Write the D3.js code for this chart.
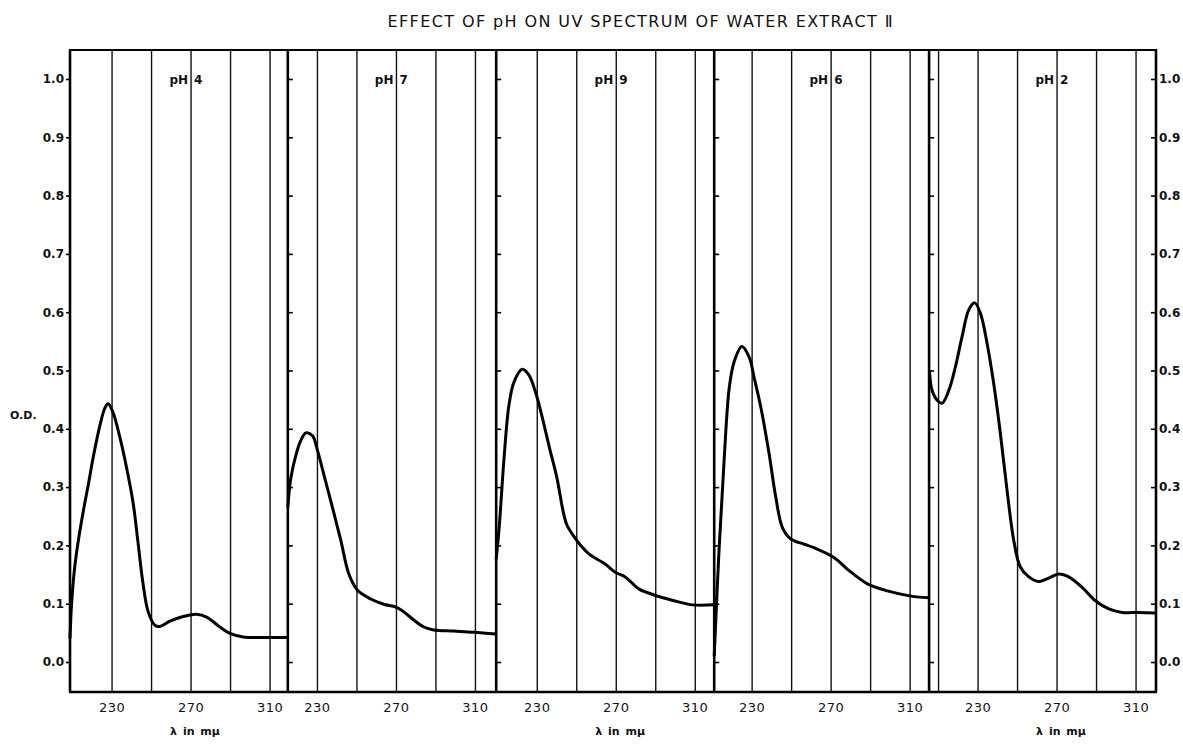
<!DOCTYPE html>
<meta charset="utf-8">
<style>
body { margin: 0; background: #fff; }
text { font-family: "DejaVu Sans", sans-serif; fill: #111; }
.grid line { stroke: #111; stroke-width: 1.4px; }
.curve { fill: none; stroke: #000; stroke-width: 3px; stroke-linejoin: round; }
</style>
<svg width="1183" height="746"></svg>
<script src="https://d3js.org/d3.v7.min.js"></script>
<script>

// pH of each strip, left to right
var phValues = ["4", "7", "9", "6", "2"];

// wavelength span (m\u03bc) covered by each strip of chart paper
var panelStart = [208.7, 215.0, 209.2, 210.8, 205.2];
var panelEnd   = [319.0, 320.5, 319.6, 319.6, 320.1];

var gridNm = [210, 230, 250, 270, 290, 310];
var xTickLabels = [230, 270, 310];
var yTicks = [0, 0.1, 0.2, 0.3, 0.4, 0.5, 0.6, 0.7, 0.8, 0.9, 1.0];

// spectra: wavelength (m\u03bc) and O.D.
var ph4Nm = [208.7, 209.5, 211.0, 213.0, 215.5, 218.0, 220.5, 223.8, 226.3, 228.0, 230.5, 233.9, 237.3, 240.7, 243.2, 245.7, 248.3, 251.7, 254.2, 259.3, 266.0, 272.8, 277.9, 284.6, 289.7, 296.4, 304.9, 319.0];
var ph4OD = [0.04, 0.10, 0.16, 0.21, 0.26, 0.305, 0.352, 0.405, 0.435, 0.443, 0.428, 0.386, 0.334, 0.272, 0.203, 0.134, 0.086, 0.063, 0.061, 0.070, 0.078, 0.082, 0.077, 0.060, 0.049, 0.043, 0.042, 0.042];

var ph7Nm = [215.0, 216.5, 219.1, 221.6, 224.1, 227.5, 230.0, 233.2, 237.6, 241.8, 245.9, 250.3, 257.0, 263.6, 269.7, 273.7, 278.8, 283.9, 288.9, 299.1, 309.2, 320.3];
var ph7OD = [0.265, 0.315, 0.355, 0.38, 0.393, 0.388, 0.363, 0.322, 0.265, 0.209, 0.151, 0.123, 0.108, 0.099, 0.094, 0.086, 0.072, 0.060, 0.055, 0.053, 0.051, 0.048];

var ph9Nm = [209.2, 210.7, 213.1, 215.6, 218.2, 222.4, 225.8, 229.1, 232.5, 236.0, 240.0, 243.0, 245.0, 248.0, 252.0, 256.3, 264.4, 269.5, 274.5, 281.6, 289.2, 298.3, 308.4, 319.5];
var ph9OD = [0.176, 0.23, 0.346, 0.439, 0.48, 0.502, 0.492, 0.463, 0.42, 0.37, 0.315, 0.26, 0.235, 0.218, 0.2, 0.185, 0.168, 0.154, 0.146, 0.125, 0.115, 0.106, 0.098, 0.098];

var ph6Nm = [210.8, 213.3, 215.9, 218.4, 220.9, 224.8, 228.5, 231.0, 234.4, 238.6, 242.0, 245.4, 249.6, 256.4, 261.4, 271.6, 278.3, 288.4, 298.5, 310.4, 319.5];
var ph6OD = [0.01, 0.196, 0.351, 0.47, 0.515, 0.541, 0.523, 0.488, 0.437, 0.357, 0.282, 0.23, 0.211, 0.202, 0.196, 0.179, 0.159, 0.134, 0.122, 0.113, 0.110];

var ph2Nm = [205.4, 206.7, 209.3, 211.8, 215.2, 218.5, 221.9, 225.3, 228.3, 231.2, 234.6, 237.9, 241.3, 244.7, 248.1, 251.4, 255.7, 260.7, 265.8, 270.9, 275.9, 282.7, 289.4, 296.2, 303.0, 311.4, 320.0];
var ph2OD = [0.50, 0.466, 0.449, 0.444, 0.466, 0.506, 0.558, 0.604, 0.616, 0.598, 0.546, 0.478, 0.392, 0.294, 0.208, 0.163, 0.146, 0.138, 0.144, 0.151, 0.146, 0.128, 0.105, 0.091, 0.085, 0.085, 0.084];

var spectraNm = [ph4Nm, ph7Nm, ph9Nm, ph6Nm, ph2Nm];
var spectraOD = [ph4OD, ph7OD, ph9OD, ph6OD, ph2OD];

var svg = d3.select("svg");

var plotLeft = 70, plotRight = 1156, plotTop = 50, plotBottom = 692;

var y = d3.scaleLinear().domain([0, 1]).range([662, 79]);

// strips sit side by side, every strip has the same m\u03bc per pixel
var totalNm = d3.sum(panelStart, function(d, i) { return panelEnd[i] - d; });
var pxPerNm = (plotRight - plotLeft) / totalNm;

var panels = [];
var x0 = plotLeft;
phValues.forEach(function(ph, i) {
  var w = (panelEnd[i] - panelStart[i]) * pxPerNm;
  panels.push({
    ph: ph,
    x: d3.scaleLinear().domain([panelStart[i], panelEnd[i]]).range([x0, x0 + w]),
    pts: spectraNm[i].map(function(nm, j) { return [nm, spectraOD[i][j]]; })
  });
  x0 += w;
});

// title
svg.append("text")
   .attr("x", 640)
   .attr("y", 27)
   .attr("text-anchor", "middle")
   .attr("font-size", "16px")
   .attr("textLength", 505)
   .attr("lengthAdjust", "spacing")
   .text("EFFECT OF pH ON UV SPECTRUM OF WATER EXTRACT \u2161");

// vertical grid of the chart paper
var grid = svg.append("g").attr("class", "grid");
panels.forEach(function(p) {
  var dom = p.x.domain();
  gridNm.filter(function(g) { return g > dom[0] + 2 && g < dom[1] - 2; })
        .forEach(function(g) {
          grid.append("line")
              .attr("x1", p.x(g)).attr("x2", p.x(g))
              .attr("y1", plotTop).attr("y2", plotBottom);
        });
});

// strip boundaries with their small O.D. ticks
panels.forEach(function(p, i) {
  var bx = p.x.range()[0];
  if (i > 0) {
    svg.append("line")
       .attr("x1", bx).attr("x2", bx)
       .attr("y1", plotTop).attr("y2", plotBottom)
       .attr("stroke", "#000")
       .attr("stroke-width", 2.6);
    var t = svg.append("g")
       .attr("transform", "translate(" + bx + ",0)")
       .call(d3.axisRight(y).tickValues(yTicks).tickSize(5).tickFormat(""));
    t.select(".domain").remove();
    t.selectAll("line").attr("stroke", "#000").attr("stroke-width", 1.6);
  }
});

// frame
svg.append("line").attr("x1", plotLeft - 1).attr("x2", plotRight + 1).attr("y1", plotTop).attr("y2", plotTop)
   .attr("stroke", "#000").attr("stroke-width", 2);
svg.append("line").attr("x1", plotLeft - 1).attr("x2", plotRight + 1).attr("y1", plotBottom).attr("y2", plotBottom)
   .attr("stroke", "#000").attr("stroke-width", 2.4);
svg.append("line").attr("x1", plotLeft).attr("x2", plotLeft).attr("y1", plotTop).attr("y2", plotBottom)
   .attr("stroke", "#000").attr("stroke-width", 2.6);
svg.append("line").attr("x1", plotRight).attr("x2", plotRight).attr("y1", plotTop).attr("y2", plotBottom)
   .attr("stroke", "#000").attr("stroke-width", 2.6);

// left O.D. axis
var yLeft = svg.append("g")
   .attr("transform", "translate(" + plotLeft + ",0)")
   .call(d3.axisLeft(y).tickValues(yTicks).tickSize(4).tickPadding(2).tickFormat(d3.format(".1f")));
yLeft.select(".domain").remove();
yLeft.selectAll("line").attr("stroke", "#000").attr("stroke-width", 1.6);
yLeft.selectAll("text")
     .attr("font-family", "'DejaVu Sans', sans-serif")
     .attr("font-size", "12px")
     .attr("font-weight", "bold")
     .attr("fill", "#111");

// right O.D. axis
var yRight = svg.append("g")
   .attr("transform", "translate(" + plotRight + ",0)")
   .call(d3.axisRight(y).tickValues(yTicks).tickSize(-5).tickPadding(3).tickFormat(d3.format(".1f")));
yRight.select(".domain").remove();
yRight.selectAll("line").attr("stroke", "#000").attr("stroke-width", 1.6);
yRight.selectAll("text")
      .attr("font-family", "'DejaVu Sans', sans-serif")
      .attr("font-size", "12px")
      .attr("font-weight", "bold")
      .attr("fill", "#111");

svg.append("text")
   .attr("x", 10)
   .attr("y", 419)
   .attr("font-size", "11px")
   .attr("font-weight", "bold")
   .text("O.D.");

// spectra
var line = d3.line()
  .curve(d3.curveCatmullRom.alpha(0.5));

panels.forEach(function(p) {
  line.x(function(d) { return p.x(d[0]); })
      .y(function(d) { return y(d[1]); });
  svg.append("path")
     .attr("class", "curve")
     .attr("d", line(p.pts));

  // pH label straddles the 270 line
  var lx = p.x(270);
  svg.append("text")
     .attr("x", lx - 3).attr("y", 84)
     .attr("text-anchor", "end")
     .attr("font-size", "12px")
     .attr("font-weight", "bold")
     .text("pH");
  svg.append("text")
     .attr("x", lx + 3).attr("y", 84)
     .attr("font-size", "12px")
     .attr("font-weight", "bold")
     .text(p.ph);

  xTickLabels.forEach(function(t) {
    svg.append("text")
       .attr("x", p.x(t)).attr("y", 712)
       .attr("text-anchor", "middle")
       .attr("font-size", "13px")
       .attr("letter-spacing", "0.5px")
       .text(t);
  });
});

// wavelength caption under the 1st, 3rd and 5th strips
[0, 2, 4].forEach(function(i) {
  var p = panels[i];
  svg.append("text")
     .attr("x", p.x(272)).attr("y", 735)
     .attr("text-anchor", "middle")
     .attr("font-size", "11px")
     .attr("font-weight", "bold")
     .attr("word-spacing", "2px")
     .text("\u03bb in m\u03bc");
});

</script>
